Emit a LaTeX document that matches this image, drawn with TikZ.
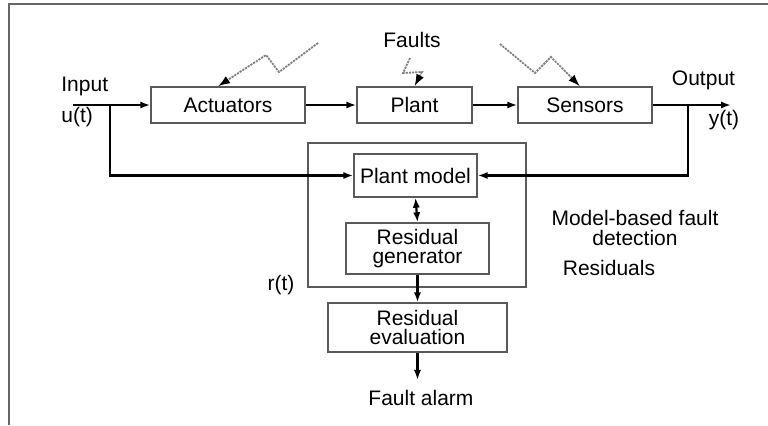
\documentclass[tikz,border=0pt]{standalone}
\usepackage{fontspec}
\setmainfont{Liberation Sans}
\usetikzlibrary{arrows.meta}
\begin{document}
\begin{tikzpicture}[x=0.5pt, y=-0.5pt,
    every node/.style={font=\fontsize{10.5}{9.6}\selectfont, inner sep=0pt},
    bloque/.style={draw=black!65, line width=0.7pt, align=center},
    senal/.style={line width=1.1pt, -{Latex[length=5pt,width=3.6pt]}},
    falla/.style={black!50, dash pattern=on 1.1pt off 0.5pt, line width=0.9pt, -{Latex[length=6pt,width=4.2pt,black]}},
    marco/.style={black!60, line width=1pt},
    etiq/.style={align=center}]
  \useasboundingbox (0,0) rectangle (768,425);
  \draw[marco] (9,425) -- (9,4) -- (768,4);
  % process chain
  \node[bloque, minimum width=77pt, minimum height=18pt] (act) at (228,105) {Actuators};
  \node[bloque, minimum width=57.5pt, minimum height=18pt] (plant) at (414.5,105) {Plant};
  \node[bloque, minimum width=67pt, minimum height=18pt] (sen) at (585,105) {Sensors};
  % model-based detection
  \draw[bloque] (308,143) rectangle (526,287);
  \node[bloque, minimum width=61.5pt, minimum height=21.5pt] (pm) at (415.5,175.5) {Plant model};
  \node[bloque, minimum width=71.5pt, minimum height=25.5pt] (rg) at (417.5,248.5) {Residual\\generator};
  \node[bloque, minimum width=89.5pt, minimum height=24.5pt] (re) at (417.5,327.5) {Residual\\evaluation};
  % labels
  \node[anchor=west] (lin) at (61,86) {Input};
  \node[anchor=west] (lu) at (61,117) {u(t)};
  \node (lout) at (703.5,80) {Output};
  \node (ly) at (724,120) {y(t)};
  \node (lfaults) at (412,40) {Faults};
  \node (lr) at (281,285) {r(t)};
  \node[etiq] (lmb) at (635,228) {Model-based fault\\detection};
  \node (lres) at (609,268) {Residuals};
  \node (alarm) at (421,398) {Fault alarm};
  % signals
  \coordinate (in) at (73,105);
  \coordinate (ib) at (110,105);
  \coordinate (ob) at (688,105);
  \coordinate (out) at (731,105);
  \draw[senal] (in) -- (act.west);
  \draw[senal] (act.east) -- (plant.west);
  \draw[senal] (plant.east) -- (sen.west);
  \draw[senal] (sen.east) -- (out);
  \draw[senal] (ib) |- (pm.west);
  \draw[senal] (ob) |- (pm.east);
  \draw[senal, {Latex[length=5pt,width=3.6pt]}-{Latex[length=5pt,width=3.6pt]}] (pm.south) -- (rg.north);
  \draw[senal] (rg.south) -- (re.north);
  \draw[senal, shorten >=5pt] (re.south) -- (re.south |- alarm.north);
  % faults
  \coordinate (fa1) at (318,43);
  \coordinate (fa2) at (279,72);
  \coordinate (fa3) at (266,55);
  \draw[falla] (fa1) -- (fa2) -- (fa3) -- ([xshift=-5pt]act.north);
  \coordinate (fp1) at (410,58);
  \coordinate (fp2) at (403,73);
  \coordinate (fp3) at (422,72);
  \draw[falla] (fp1) -- (fp2) -- (fp3) -- (plant.north);
  \coordinate (fs1) at (500,44);
  \coordinate (fs2) at (535,73);
  \coordinate (fs3) at (551,57);
  \draw[falla] (fs1) -- (fs2) -- (fs3) -- ([xshift=-2.5pt]sen.north);
\end{tikzpicture}
\end{document}
